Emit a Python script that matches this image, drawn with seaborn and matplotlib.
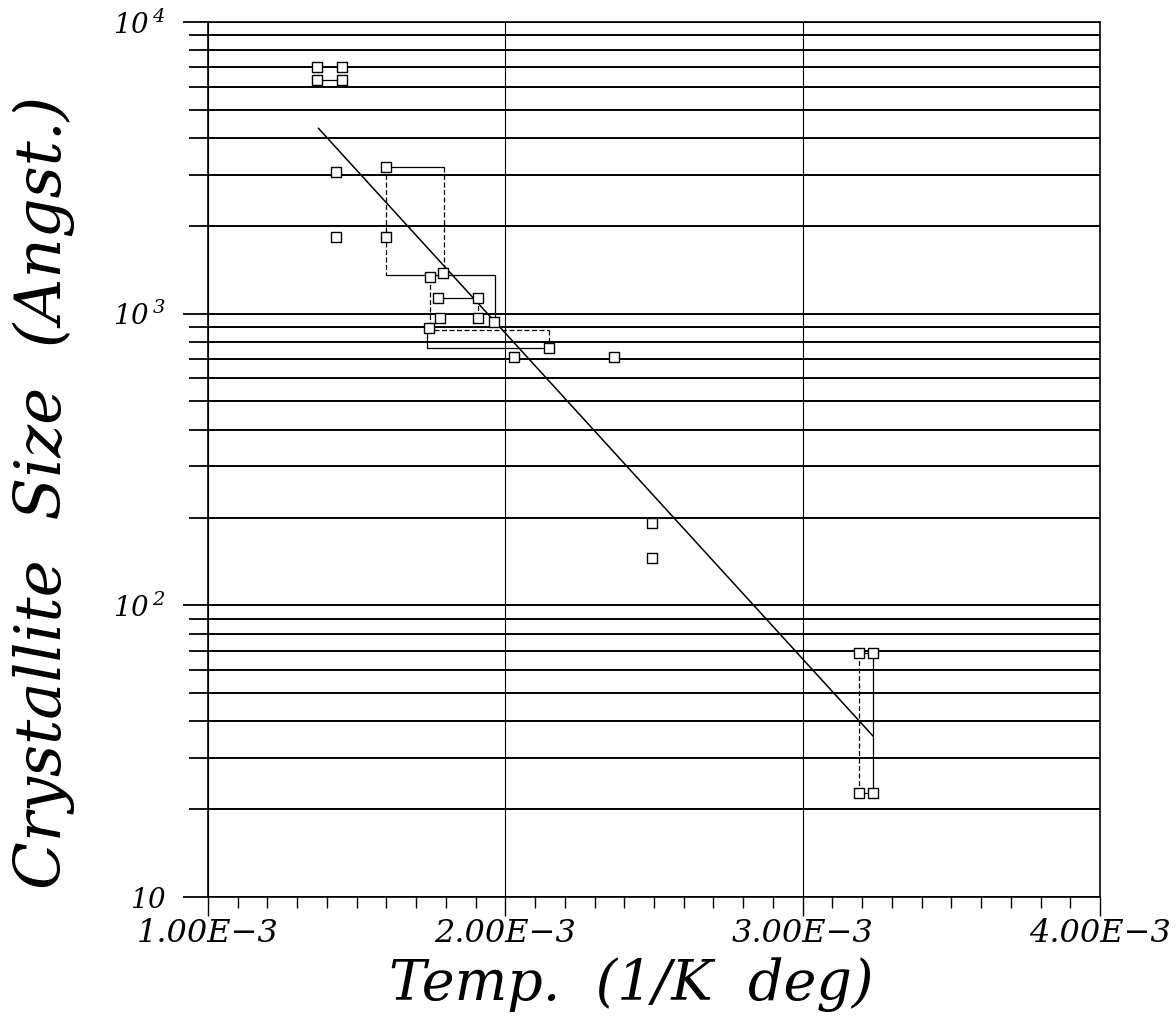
import matplotlib
matplotlib.use("Agg")
import matplotlib.pyplot as plt
import matplotlib.ticker as mticker
import numpy as np
import pandas as pd
import seaborn as sns

# Measured crystallite sizes (Angstrom) against inverse temperature (1/K)
inv_temp = [1.365e-3, 1.450e-3, 1.365e-3, 1.450e-3,
            1.430e-3, 1.600e-3, 1.430e-3, 1.600e-3,
            1.745e-3, 1.792e-3, 1.775e-3, 1.909e-3,
            1.780e-3, 1.908e-3, 1.962e-3, 1.743e-3,
            2.146e-3, 2.030e-3, 2.367e-3,
            2.492e-3, 2.492e-3,
            3.190e-3, 3.238e-3, 3.190e-3, 3.238e-3]
size_angst = [7000, 7000, 6330, 6330,
              3070, 3190, 1830, 1830,
              1340, 1375, 1135, 1135,
              966, 966, 936, 893,
              760, 713, 713,
              191, 145,
              68.5, 68.5, 22.8, 22.8]

# Least-squares Arrhenius fit, end points
fit_x = [1.371e-3, 3.238e-3]
fit_y = [4325, 35.5]

# Range connectors between paired measurements: (x0, y0, x1, y1, dashed?)
link_x0 = [1.365e-3, 1.600e-3, 1.600e-3, 1.600e-3, 1.965e-3, 1.794e-3, 1.775e-3,
           1.747e-3, 1.909e-3, 1.760e-3, 2.146e-3, 1.737e-3, 1.737e-3,
           3.190e-3, 3.238e-3, 3.190e-3, 3.190e-3]
link_y0 = [6330, 3190, 3190, 1358, 1358, 3190, 1135,
           1340, 1135, 879, 879, 893, 765,
           68.5, 68.5, 68.5, 22.8]
link_x1 = [1.450e-3, 1.794e-3, 1.600e-3, 1.965e-3, 1.965e-3, 1.794e-3, 1.909e-3,
           1.747e-3, 1.909e-3, 2.146e-3, 2.146e-3, 1.737e-3, 2.146e-3,
           3.190e-3, 3.238e-3, 3.238e-3, 3.238e-3]
link_y1 = [6330, 3190, 1358, 1358, 950, 1375, 1135,
           893, 966, 879, 760, 765, 765,
           22.8, 22.8, 68.5, 22.8]
link_dashed = [False, False, True, False, False, True, False,
               True, True, True, True, False, False,
               True, False, False, False]

x_ticks = [1e-3, 2e-3, 3e-3, 4e-3]
x_tick_labels = ["1.00E\u22123", "2.00E\u22123", "3.00E\u22123", "4.00E\u22123"]
y_ticks = [10, 100, 1000, 10000]
y_tick_labels = [r"$\mathregular{10}$", r"$\mathregular{10\,^{2}}$",
                 r"$\mathregular{10\,^{3}}$", r"$\mathregular{10\,^{4}}$"]

sns.set_theme(style="white")
plt.rcParams["font.family"] = ["DejaVu Serif"]
plt.rcParams["font.style"] = "italic"
plt.rcParams["mathtext.fontset"] = "custom"
plt.rcParams["mathtext.rm"] = "DejaVu Serif:italic"
plt.rcParams["mathtext.it"] = "DejaVu Serif:italic"
for key in ["text.color", "axes.labelcolor", "xtick.color", "ytick.color",
            "axes.edgecolor"]:
    plt.rcParams[key] = "black"

df = pd.DataFrame({"x": inv_temp, "y": size_angst})
fit_df = pd.DataFrame({"x": fit_x, "y": fit_y})

fig = plt.figure(figsize=(11.76, 10.19), dpi=100)
ax = fig.add_axes([208 / 1176, 1 - 897 / 1019, (1100 - 208) / 1176, (897 - 22) / 1019])

ax.set_yscale("log")
ax.set_xlim(1e-3, 4e-3)
ax.set_ylim(10, 10000)

# horizontal grid at every minor decade value, vertical grid at major x ticks
ax.yaxis.set_major_locator(mticker.FixedLocator(y_ticks))
ax.yaxis.set_minor_locator(mticker.LogLocator(base=10, subs=np.arange(2, 10)))
ax.yaxis.set_minor_formatter(mticker.NullFormatter())
ax.xaxis.set_major_locator(mticker.FixedLocator(x_ticks))
ax.xaxis.set_minor_locator(mticker.MultipleLocator(1e-4))
ax.grid(which="major", axis="y", color="black", lw=1.4)
ax.grid(which="minor", axis="y", color="black", lw=1.4)
ax.grid(which="major", axis="x", color="black", lw=0.8)

for a, b, c, d, dashed in zip(link_x0, link_y0, link_x1, link_y1, link_dashed):
    ax.plot([a, c], [b, d], color="black", lw=0.9,
            ls=(0, (4, 2)) if dashed else "-", zorder=3)

sns.lineplot(data=fit_df, x="x", y="y", ax=ax, color="black", lw=1.1, zorder=4)
sns.scatterplot(data=df, x="x", y="y", ax=ax, marker="s", s=55,
                facecolor="white", edgecolor="black", linewidth=1.0, zorder=5)

ax.set_xticks(x_ticks)
ax.set_xticklabels(x_tick_labels, fontsize=23, fontstyle="italic")
ax.set_yticks(y_ticks)
ax.set_yticklabels(y_tick_labels, fontsize=20)
ax.tick_params(axis="x", which="major", direction="out", length=14, width=1.0,
               pad=1)
ax.tick_params(axis="x", which="minor", direction="out", length=8, width=1.0)
ax.tick_params(axis="y", which="major", direction="out", length=18, width=1.3,
               pad=12)
ax.tick_params(axis="y", which="minor", direction="out", length=14, width=1.3)
ax.tick_params(bottom=True, left=True, which="both")

for side in ["left", "right", "top", "bottom"]:
    ax.spines[side].set_visible(True)
    ax.spines[side].set_linewidth(1.2)

ax.set_xlabel("")
ax.set_ylabel("")
fig.text(631 / 1176, 1 - 985 / 1019, "Temp.  (1/K  deg)", ha="center", va="center",
         fontsize=40, fontstyle="italic")
fig.text(44 / 1176, 1 - 492 / 1019, "Crystallite  Size  (Angst.)", ha="center",
         va="center", rotation=90, fontsize=45, fontstyle="italic")

fig.savefig("out.png", dpi=100, facecolor="white")
